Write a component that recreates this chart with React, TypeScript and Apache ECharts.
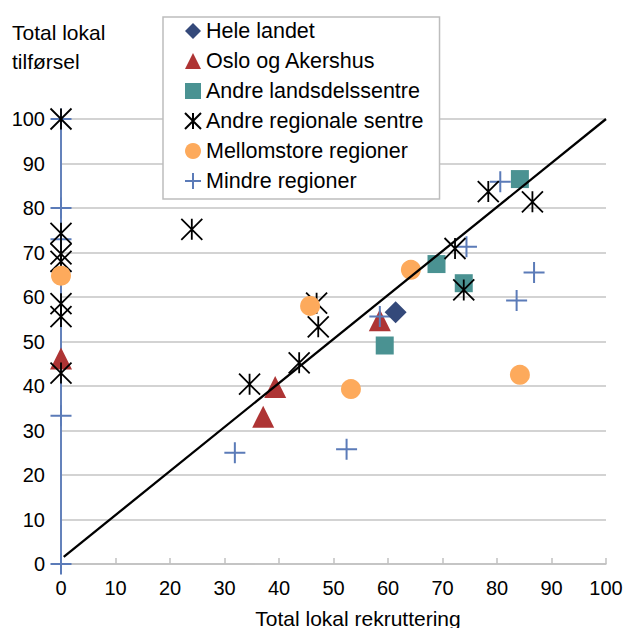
import React, { useEffect, useRef } from "react";
import * as echarts from "echarts";

const seriesNames = [
  "Hele landet",
  "Oslo og Akershus",
  "Andre landsdelssentre",
  "Andre regionale sentre",
  "Mellomstore regioner",
  "Mindre regioner",
];

const heleLandet: [number, number][] = [[61.4, 56.6]];
const osloAkershus: [number, number][] = [
  [0, 46.2],
  [39.3, 39.8],
  [37.1, 33.1],
  [58.5, 54.8],
];
const andreLandsdelssentre: [number, number][] = [
  [59.4, 49.1],
  [68.9, 67.4],
  [73.9, 63.1],
  [84.2, 86.5],
];
const andreRegionaleSentre: [number, number][] = [
  [0, 100],
  [0, 74.3],
  [0, 69.7],
  [0, 68.0],
  [0, 58.5],
  [0, 55.6],
  [0, 42.9],
  [24.0, 75.2],
  [34.6, 40.4],
  [43.7, 45.2],
  [47.2, 53.3],
  [46.9, 58.6],
  [72.3, 70.9],
  [73.9, 61.6],
  [78.4, 83.7],
  [86.5, 81.4],
];
const mellomstoreRegioner: [number, number][] = [
  [0, 64.8],
  [45.7, 58.0],
  [53.2, 39.3],
  [64.2, 66.1],
  [84.2, 42.5],
];
const mindreRegioner: [number, number][] = [
  [0, 100],
  [0, 80],
  [0, 73.0],
  [0, 65.8],
  [0, 33.3],
  [0, 0],
  [31.9, 25.0],
  [52.4, 25.8],
  [58.5, 55.6],
  [74.4, 71.3],
  [80.6, 85.9],
  [86.8, 65.5],
  [83.6, 59.2],
];
const trendLine: [number, number][] = [
  [0.5, 1.6],
  [100, 100],
];
const axisTicks = [0, 100, 10];

const FONT = "'Liberation Sans', Arial, sans-serif";
const STAR = "path://M0,0L20,20M20,0L0,20M10,0L10,20";
const PLUS = "path://M10,0L10,20M0,10L20,10";

export default function App() {
  const ref = useRef<HTMLDivElement>(null);
  useEffect(() => {
    if (!ref.current) return;
    const chart = echarts.init(ref.current, null, { renderer: "svg" });
    chart.setOption({
      animation: false,
      backgroundColor: "#ffffff",
      textStyle: { fontFamily: FONT },
      grid: { left: 61, right: 21, top: 119, bottom: 64, containLabel: false },
      graphic: [
        {
          type: "text",
          left: 12,
          top: 18,
          style: {
            text: "Total lokal\ntilførsel",
            font: `21px ${FONT}`,
            lineHeight: 29,
            fill: "#000",
          },
        },
        {
          type: "text",
          x: 358,
          y: 618,
          style: {
            text: "Total lokal rekruttering",
            font: `21px ${FONT}`,
            fill: "#000",
            textAlign: "center",
            textVerticalAlign: "middle",
          },
        },
      ],
      legend: {
        orient: "vertical",
        left: 163,
        top: 17,
        padding: [3, 16, 7, 21],
        itemGap: 8,
        itemWidth: 16,
        itemHeight: 16,
        borderColor: "#bdbdbd",
        borderWidth: 1.5,
        backgroundColor: "#fff",
        textStyle: { fontSize: 21.5, color: "#000", fontFamily: FONT, lineHeight: 20 },
        data: seriesNames,
      },
      xAxis: {
        type: "value",
        min: axisTicks[0],
        max: axisTicks[1],
        interval: axisTicks[2],
        axisLine: { show: true, onZero: false, lineStyle: { color: "#c0c0c0", width: 1.5 } },
        axisTick: { show: true, inside: true, length: 6, lineStyle: { color: "#c0c0c0", width: 1.5 } },
        splitLine: { show: false },
        axisLabel: { fontSize: 20, color: "#000", margin: 14, fontFamily: FONT },
      },
      yAxis: {
        type: "value",
        min: axisTicks[0],
        max: axisTicks[1],
        interval: axisTicks[2],
        axisLine: { show: true, onZero: false, lineStyle: { color: "#6482bb", width: 2 } },
        axisTick: { show: false },
        splitLine: { show: true, lineStyle: { color: "#c4c4c4", width: 1.5 } },
        axisLabel: { fontSize: 20, color: "#000", margin: 16, fontFamily: FONT },
      },
      series: [
        {
          name: seriesNames[1],
          type: "scatter",
          z: 3,
          symbol: "triangle",
          symbolSize: 22,
          itemStyle: { color: "#ae3434", opacity: 1 },
          data: osloAkershus,
        },
        {
          name: seriesNames[5],
          type: "scatter",
          z: 4,
          symbol: PLUS,
          symbolSize: 21,
          itemStyle: { color: "transparent", borderColor: "#5b7bb8", borderWidth: 2, opacity: 1 },
          data: mindreRegioner,
        },
        {
          name: seriesNames[2],
          type: "scatter",
          z: 5,
          symbol: "rect",
          symbolSize: 18,
          itemStyle: { color: "#4a9292", opacity: 1 },
          data: andreLandsdelssentre,
        },
        {
          name: seriesNames[3],
          type: "scatter",
          z: 6,
          symbol: STAR,
          symbolSize: 21,
          itemStyle: { color: "transparent", borderColor: "#000", borderWidth: 1.8, opacity: 1 },
          data: andreRegionaleSentre,
        },
        {
          name: seriesNames[4],
          type: "scatter",
          z: 7,
          symbol: "circle",
          symbolSize: 20,
          itemStyle: { color: "#fdaa5c", opacity: 1 },
          data: mellomstoreRegioner,
        },
        {
          name: seriesNames[0],
          type: "scatter",
          z: 8,
          symbol: "diamond",
          symbolSize: 22,
          itemStyle: { color: "#34497a", opacity: 1 },
          data: heleLandet,
        },
        {
          name: "trend",
          type: "line",
          z: 9,
          symbol: "none",
          lineStyle: { color: "#000", width: 2.3 },
          data: trendLine,
        },
      ],
    });
    return () => chart.dispose();
  }, []);
  return (
    <div
      ref={ref}
      style={{ position: "absolute", left: 0, top: 0, width: 627, height: 628 }}
    />
  );
}
